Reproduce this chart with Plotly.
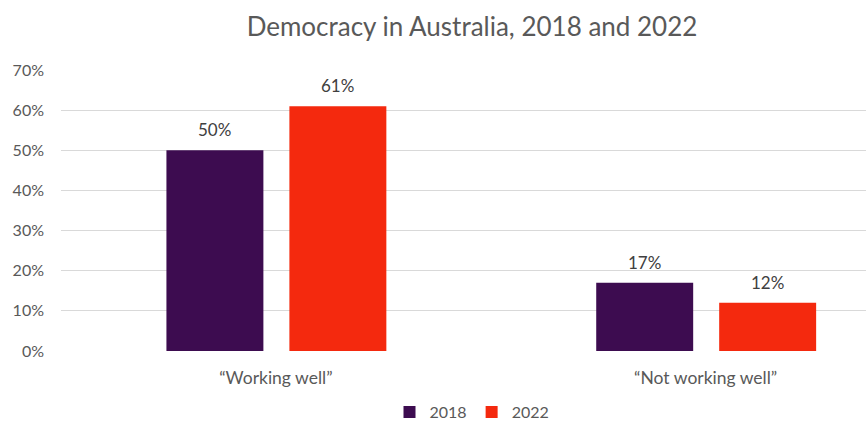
import plotly.graph_objects as go

categories = ["\u201cWorking well\u201d", "\u201cNot working well\u201d"]
years = ["2018", "2022"]
values_2018 = [0.50, 0.17]
values_2022 = [0.61, 0.12]
y_ticks = [0, 0.1, 0.2, 0.3, 0.4, 0.5, 0.6, 0.7]

colors = {"2018": "#3D0C50", "2022": "#F4290E"}
series = {"2018": values_2018, "2022": values_2022}
offsets = {"2018": -0.2547, "2022": 0.0314}
bar_width = 0.2256
positions = list(range(len(categories)))

FONT = "Lato, Carlito, Calibri, sans-serif"

fig = go.Figure()
for yr in years:
    fig.add_trace(go.Bar(
        name=yr,
        x=positions,
        y=series[yr],
        marker=dict(color=colors[yr], line=dict(width=0)),
        width=bar_width,
        offset=offsets[yr],
        hovertemplate="%{y:.0%}<extra>" + yr + "</extra>",
    ))
    # value labels above each bar
    for idx, v in zip(positions, series[yr]):
        fig.add_annotation(
            x=idx + offsets[yr] + bar_width / 2,
            y=v,
            xref="x", yref="y",
            text=f"{round(v * 100)}%",
            showarrow=False,
            yanchor="bottom",
            yshift=8,
            font=dict(family=FONT, size=17, color="#404040"),
        )

fig.update_layout(
    width=866, height=423,
    margin=dict(l=61, r=0, t=70, b=72, autoexpand=False),
    paper_bgcolor="white",
    plot_bgcolor="white",
    barmode="group",
    title=dict(
        text="Democracy in Australia, 2018 and 2022",
        x=472 / 866, xref="container", xanchor="center",
        y=1 - 27 / 423, yref="container", yanchor="middle",
        font=dict(family=FONT, size=26, color="#595959"),
    ),
    xaxis=dict(
        range=[-0.5, 1.373],
        tickvals=positions,
        ticktext=categories,
        showgrid=False,
        zeroline=False,
        showline=False,
        ticks="",
        ticklabelstandoff=14,
        automargin=False,
        tickfont=dict(family=FONT, size=17.5, color="#595959"),
    ),
    yaxis=dict(
        range=[0, 0.7],
        tickvals=y_ticks,
        tickformat=".0%",
        showgrid=True,
        gridcolor="#D9D9D9",
        gridwidth=1,
        zeroline=False,
        showline=False,
        ticks="",
        ticklabelstandoff=16,
        automargin=False,
        tickfont=dict(family=FONT, size=16, color="#595959"),
    ),
    showlegend=True,
    legend=dict(
        orientation="h",
        x=472 / 866, xref="container", xanchor="center",
        y=1 - 412 / 423, yref="container", yanchor="middle",
        font=dict(family=FONT, size=16, color="#595959"),
        itemwidth=30,
        traceorder="normal",
    ),
)

fig.write_html("out.html")
